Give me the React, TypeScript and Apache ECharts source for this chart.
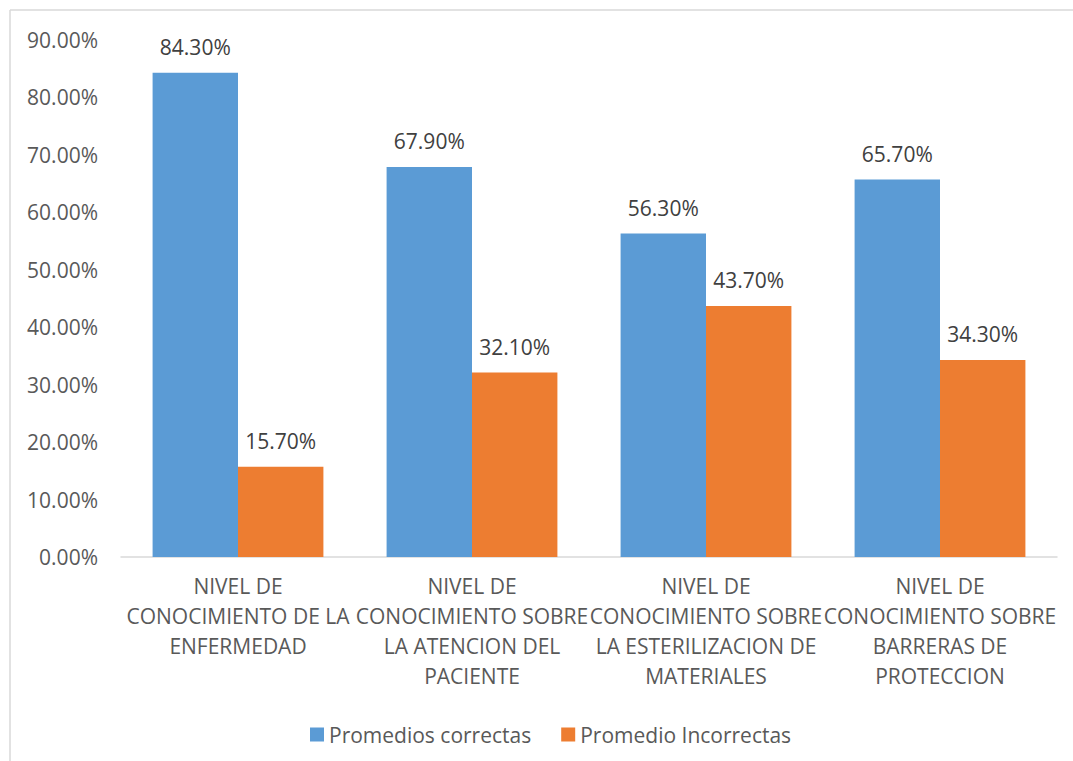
import React, { useEffect, useRef } from "react";
import * as echarts from "echarts";

const categories = [
  "NIVEL DE\nCONOCIMIENTO DE LA\nENFERMEDAD",
  "NIVEL DE\nCONOCIMIENTO SOBRE\nLA ATENCION DEL\nPACIENTE",
  "NIVEL DE\nCONOCIMIENTO SOBRE\nLA ESTERILIZACION DE\nMATERIALES",
  "NIVEL DE\nCONOCIMIENTO SOBRE\nBARRERAS DE\nPROTECCION",
];
const seriesNames = ["Promedios correctas", "Promedio Incorrectas"];
const correctas = [84.3, 67.9, 56.3, 65.7];
const incorrectas = [15.7, 32.1, 43.7, 34.3];
const yMin = 0;
const yMax = 90;
const yInterval = 10;

const FONT = "Open Sans";

export default function App() {
  const ref = useRef<HTMLDivElement>(null);
  useEffect(() => {
    document.body.style.margin = "0";
    if (!ref.current) return;
    const chart = echarts.init(ref.current, null, { renderer: "svg" });
    const labelCommon = {
      show: true,
      position: "top" as const,
      distance: 15,
      fontFamily: FONT,
      fontSize: 21,
      color: "#404040",
      formatter: (p: any) => p.value.toFixed(2) + "%",
    };
    chart.setOption({
      animation: false,
      backgroundColor: "#ffffff",
      textStyle: { fontFamily: FONT },
      graphic: [
        { type: "line", shape: { x1: 10, y1: 10, x2: 1073, y2: 10 }, style: { stroke: "#D9D9D9", lineWidth: 1.5 } },
        { type: "line", shape: { x1: 10, y1: 10, x2: 10, y2: 761 }, style: { stroke: "#D9D9D9", lineWidth: 1.5 } },
      ],
      grid: { left: 121, right: 16, top: 40, bottom: 204, containLabel: false },
      legend: {
        data: seriesNames,
        left: 305,
        top: 719,
        icon: "rect",
        itemWidth: 14,
        itemHeight: 14,
        itemGap: 30,
        textStyle: { fontFamily: FONT, fontSize: 21, color: "#595959" },
      },
      xAxis: {
        type: "category",
        data: categories,
        axisLine: { lineStyle: { color: "#D9D9D9", width: 1.5 } },
        axisTick: { show: false },
        axisLabel: {
          interval: 0,
          margin: 14,
          fontFamily: FONT,
          fontSize: 21,
          lineHeight: 30,
          color: "#595959",
          align: "center",
        },
      },
      yAxis: {
        type: "value",
        min: yMin,
        max: yMax,
        interval: yInterval,
        axisLine: { show: false },
        axisTick: { show: false },
        splitLine: { show: false },
        axisLabel: {
          margin: 23,
          fontFamily: FONT,
          fontSize: 21,
          color: "#595959",
          formatter: (v: number) => v.toFixed(2) + "%",
        },
      },
      series: [
        {
          name: seriesNames[0],
          type: "bar",
          data: correctas,
          barGap: "0%",
          barCategoryGap: "27%",
          itemStyle: { color: "#5B9BD5" },
          label: labelCommon,
        },
        {
          name: seriesNames[1],
          type: "bar",
          data: incorrectas,
          barGap: "0%",
          barCategoryGap: "27%",
          itemStyle: { color: "#ED7D31" },
          label: labelCommon,
        },
      ],
    });
    return () => chart.dispose();
  }, []);
  return <div ref={ref} style={{ width: 1073, height: 761 }} />;
}
